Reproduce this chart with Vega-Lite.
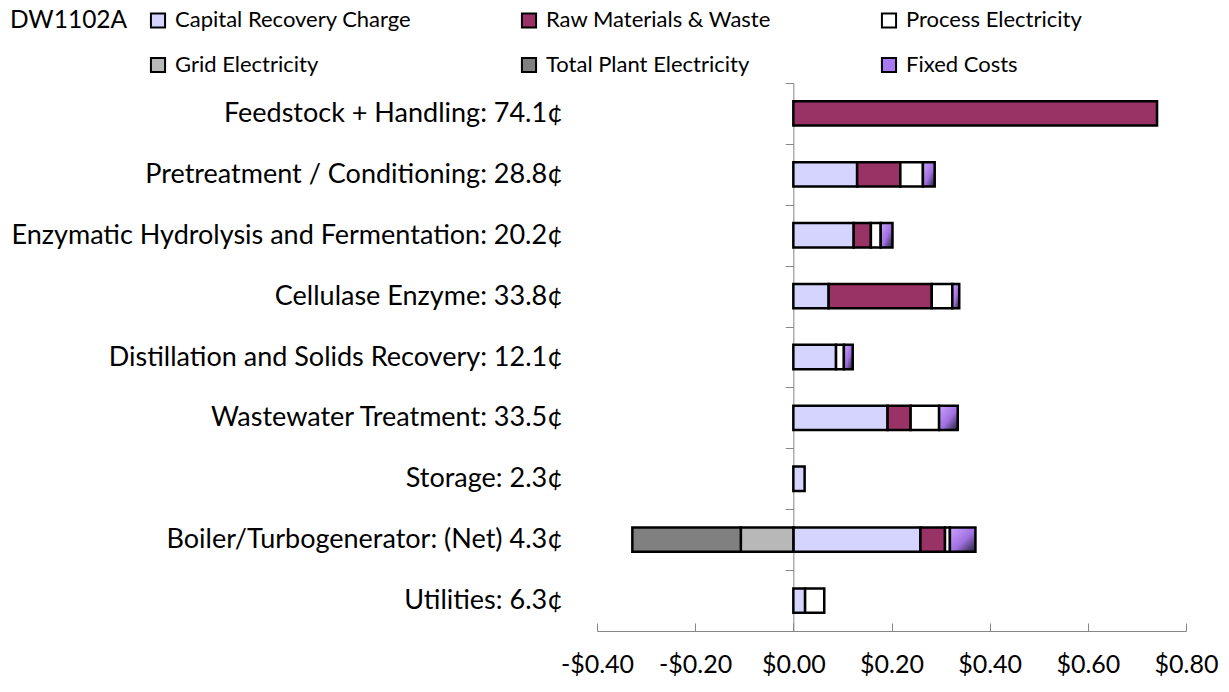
{
  "$schema": "https://vega.github.io/schema/vega-lite/v6.json",
  "width": 589,
  "height": 548,
  "autosize": {"type": "none"},
  "padding": {"left": 597, "top": 83, "right": 43, "bottom": 61},
  "config": {"font": "Lato", "view": {"stroke": null}, "background": "white"},
  "data": {
    "values": [
      {"category": "Feedstock + Handling: 74.1¢", "series": "Raw Materials & Waste", "value": 0.741},
      {"category": "Pretreatment / Conditioning: 28.8¢", "series": "Capital Recovery Charge", "value": 0.130},
      {"category": "Pretreatment / Conditioning: 28.8¢", "series": "Raw Materials & Waste", "value": 0.088},
      {"category": "Pretreatment / Conditioning: 28.8¢", "series": "Process Electricity", "value": 0.046},
      {"category": "Pretreatment / Conditioning: 28.8¢", "series": "Fixed Costs", "value": 0.024},
      {"category": "Enzymatic Hydrolysis and Fermentation: 20.2¢", "series": "Capital Recovery Charge", "value": 0.123},
      {"category": "Enzymatic Hydrolysis and Fermentation: 20.2¢", "series": "Raw Materials & Waste", "value": 0.035},
      {"category": "Enzymatic Hydrolysis and Fermentation: 20.2¢", "series": "Process Electricity", "value": 0.020},
      {"category": "Enzymatic Hydrolysis and Fermentation: 20.2¢", "series": "Fixed Costs", "value": 0.024},
      {"category": "Cellulase Enzyme: 33.8¢", "series": "Capital Recovery Charge", "value": 0.072},
      {"category": "Cellulase Enzyme: 33.8¢", "series": "Raw Materials & Waste", "value": 0.210},
      {"category": "Cellulase Enzyme: 33.8¢", "series": "Process Electricity", "value": 0.042},
      {"category": "Cellulase Enzyme: 33.8¢", "series": "Fixed Costs", "value": 0.014},
      {"category": "Distillation and Solids Recovery: 12.1¢", "series": "Capital Recovery Charge", "value": 0.087},
      {"category": "Distillation and Solids Recovery: 12.1¢", "series": "Process Electricity", "value": 0.016},
      {"category": "Distillation and Solids Recovery: 12.1¢", "series": "Fixed Costs", "value": 0.018},
      {"category": "Wastewater Treatment: 33.5¢", "series": "Capital Recovery Charge", "value": 0.192},
      {"category": "Wastewater Treatment: 33.5¢", "series": "Raw Materials & Waste", "value": 0.047},
      {"category": "Wastewater Treatment: 33.5¢", "series": "Process Electricity", "value": 0.058},
      {"category": "Wastewater Treatment: 33.5¢", "series": "Fixed Costs", "value": 0.038},
      {"category": "Storage: 2.3¢", "series": "Capital Recovery Charge", "value": 0.023},
      {"category": "Boiler/Turbogenerator: (Net) 4.3¢", "series": "Capital Recovery Charge", "value": 0.259},
      {"category": "Boiler/Turbogenerator: (Net) 4.3¢", "series": "Raw Materials & Waste", "value": 0.050},
      {"category": "Boiler/Turbogenerator: (Net) 4.3¢", "series": "Process Electricity", "value": 0.010},
      {"category": "Boiler/Turbogenerator: (Net) 4.3¢", "series": "Grid Electricity", "value": -0.107},
      {"category": "Boiler/Turbogenerator: (Net) 4.3¢", "series": "Total Plant Electricity", "value": -0.221},
      {"category": "Boiler/Turbogenerator: (Net) 4.3¢", "series": "Fixed Costs", "value": 0.052},
      {"category": "Utilities: 6.3¢", "series": "Capital Recovery Charge", "value": 0.024},
      {"category": "Utilities: 6.3¢", "series": "Process Electricity", "value": 0.039}
    ]
  },
  "transform": [
    {"calculate": "indexof(['Capital Recovery Charge','Raw Materials & Waste','Process Electricity','Grid Electricity','Total Plant Electricity','Fixed Costs'], datum.series)", "as": "ord"},
    {"stack": "value", "groupby": ["category"], "sort": [{"field": "ord", "order": "ascending"}], "as": ["x0", "x1"]}
  ],
  "mark": {"type": "bar", "height": {"band": 0.4}, "stroke": "black", "strokeWidth": 2.5},
  "encoding": {
    "y": {
      "field": "category",
      "type": "nominal",
      "sort": ["Feedstock + Handling: 74.1¢", "Pretreatment / Conditioning: 28.8¢", "Enzymatic Hydrolysis and Fermentation: 20.2¢", "Cellulase Enzyme: 33.8¢", "Distillation and Solids Recovery: 12.1¢", "Wastewater Treatment: 33.5¢", "Storage: 2.3¢", "Boiler/Turbogenerator: (Net) 4.3¢", "Utilities: 6.3¢"],
      "scale": {"paddingInner": 0, "paddingOuter": 0},
      "axis": {
        "title": null,
        "orient": "left",
        "offset": -196.33,
        "tickBand": "extent",
        "domainColor": "#868686",
        "tickColor": "#868686",
        "tickSize": 8,
        "labelPadding": 223,
        "labelFontSize": 27,
        "labelColor": "black",
        "labelLimit": 800
      }
    },
    "x": {
      "field": "x0",
      "type": "quantitative",
      "scale": {"domain": [-0.4, 0.8], "nice": false, "zero": false},
      "axis": {
        "title": null,
        "grid": false,
        "values": [-0.4, -0.2, 0, 0.2, 0.4, 0.6, 0.8],
        "labelExpr": "(datum.value < -0.0001 ? '-' : '') + '$' + format(abs(datum.value), '.2f')",
        "labelFlush": false,
        "labelOverlap": false,
        "domainColor": "#868686",
        "tickColor": "#868686",
        "tickSize": -8,
        "labelPadding": 29,
        "labelFontSize": 25,
        "labelColor": "black"
      }
    },
    "x2": {"field": "x1"},
    "fill": {
      "field": "series",
      "type": "nominal",
      "condition": {
        "test": "datum.series === 'Fixed Costs'",
        "value": {"gradient": "linear", "x1": 0, "y1": 0, "x2": 1, "y2": 1, "stops": [{"offset": 0, "color": "#cda4ff"}, {"offset": 0.55, "color": "#a070e0"}, {"offset": 1, "color": "#202030"}]}
      },
      "scale": {
        "domain": ["Capital Recovery Charge", "Raw Materials & Waste", "Process Electricity", "Grid Electricity", "Total Plant Electricity", "Fixed Costs"],
        "range": ["#d4d4ff", "#993366", "#ffffff", "#b8b8b8", "#808080", "#a878f0"]
      },
      "legend": {
        "orient": "none",
        "legendX": -587,
        "legendY": -74,
        "columns": 3,
        "direction": "horizontal",
        "title": "DW1102A",
        "titleOrient": "left",
        "titleAnchor": "start",
        "titleBaseline": "top",
        "titleFontSize": 24.5,
        "titleFontWeight": "normal",
        "titleColor": "black",
        "titlePadding": 19,
        "labelFontSize": 22,
        "labelColor": "black",
        "labelLimit": 400,
        "symbolType": "square",
        "symbolSize": 200,
        "symbolStrokeColor": "black",
        "symbolStrokeWidth": 2,
        "symbolOpacity": 1,
        "labelOffset": 6,
        "rowPadding": 21,
        "columnPadding": 105,
        "gridAlign": "each"
      }
    }
  }
}
